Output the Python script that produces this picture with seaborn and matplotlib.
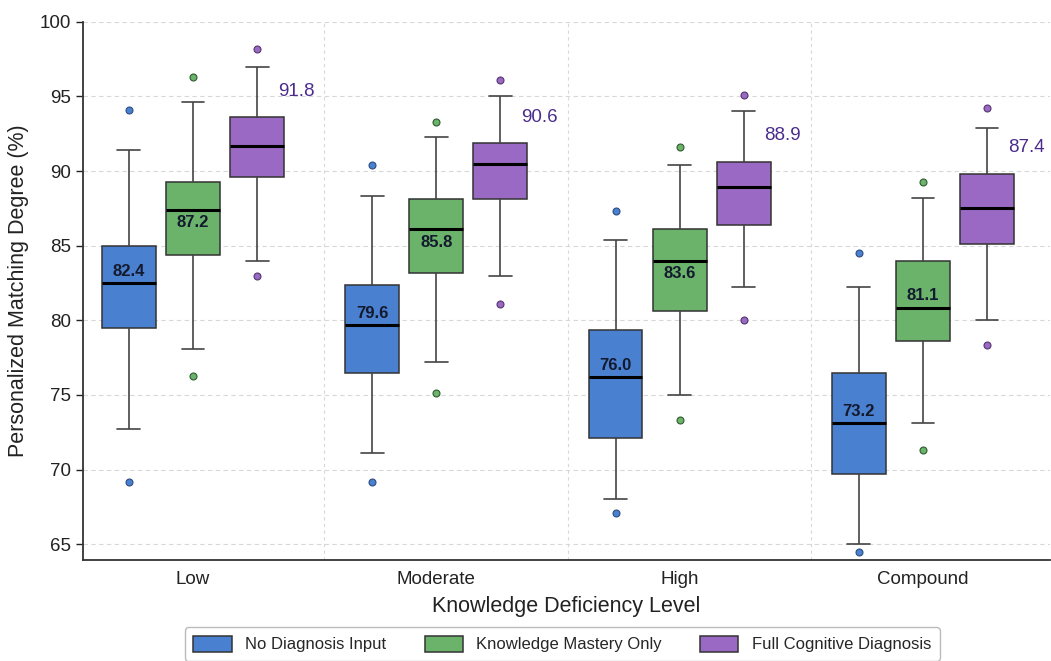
import numpy as np
import pandas as pd
import matplotlib
matplotlib.use("Agg")
import matplotlib.pyplot as plt
import seaborn as sns

# Knowledge deficiency levels and recommendation settings
levels = ["Low", "Moderate", "High", "Compound"]
methods = ["No Diagnosis Input", "Knowledge Mastery Only", "Full Cognitive Diagnosis"]

# Box summaries per method (one value per level)
none_out_lo = [69.2, 69.2, 67.1, 64.5]
none_wlo = [72.7, 71.1, 68.0, 65.0]
none_q1 = [79.5, 76.5, 72.1, 69.7]
none_med = [82.5, 79.7, 76.2, 73.1]
none_q3 = [85.0, 82.35, 79.35, 76.5]
none_whi = [91.4, 88.35, 85.4, 82.2]
none_out_hi = [94.1, 90.4, 87.3, 84.5]
none_mean = [82.4, 79.6, 76.0, 73.2]

km_out_lo = [76.3, 75.1, 73.3, 71.3]
km_wlo = [78.1, 77.2, 75.0, 73.1]
km_q1 = [84.35, 83.2, 80.6, 78.6]
km_med = [87.4, 86.1, 84.0, 80.85]
km_q3 = [89.3, 88.1, 86.1, 84.0]
km_whi = [94.6, 92.3, 90.4, 88.2]
km_out_hi = [96.3, 93.3, 91.6, 89.3]
km_mean = [87.2, 85.8, 83.6, 81.1]

full_out_lo = [83.0, 81.1, 80.0, 78.35]
full_wlo = [84.0, 83.0, 82.2, 80.0]
full_q1 = [89.6, 88.1, 86.4, 85.1]
full_med = [91.7, 90.45, 88.9, 87.5]
full_q3 = [93.6, 91.85, 90.6, 89.8]
full_whi = [97.0, 95.05, 94.0, 92.9]
full_out_hi = [98.2, 96.1, 95.1, 94.2]
full_mean = [91.8, 90.6, 88.9, 87.4]

summaries = {
    methods[0]: (none_out_lo, none_wlo, none_q1, none_med, none_q3, none_whi, none_out_hi),
    methods[1]: (km_out_lo, km_wlo, km_q1, km_med, km_q3, km_whi, km_out_hi),
    methods[2]: (full_out_lo, full_wlo, full_q1, full_med, full_q3, full_whi, full_out_hi),
}
medians = {methods[0]: none_med, methods[1]: km_med, methods[2]: full_med}
upper_q = {methods[0]: none_q3, methods[1]: km_q3, methods[2]: full_q3}

# Nine sorted points per box reproduce the quartiles; the 12.5/87.5
# percentiles land on the whisker ends, leaving one flier on each side.
rows = []
for m, (olo, wlo, q1, med, q3, whi, ohi) in summaries.items():
    for i, lv in enumerate(levels):
        pts = [olo[i], wlo[i], q1[i], q1[i], med[i], q3[i], q3[i], whi[i], ohi[i]]
        rows += [{"level": lv, "method": m, "score": v} for v in pts]
df = pd.DataFrame(rows)

palette = {methods[0]: "#4A80D0", methods[1]: "#6BB36B", methods[2]: "#9A69C4"}
flier_edges = {methods[0]: "#2E4D80", methods[1]: "#2F5A2F", methods[2]: "#54356F"}

sns.set_style("ticks")
plt.rcParams["font.family"] = ["Liberation Sans", "DejaVu Sans"]

fig = plt.figure(figsize=(10.51, 6.61), dpi=100)
ax = fig.add_axes([0.079, 0.153, 0.92, 0.814])

width = 0.79
sns.boxplot(
    data=df, x="level", y="score", hue="method",
    order=levels, hue_order=methods, palette=palette, saturation=1,
    width=width, gap=0.16, whis=(12.5, 87.5),
    linewidth=1.1, linecolor="#333333",
    medianprops=dict(color="black", linewidth=2.2),
    whiskerprops=dict(color="#444444", linewidth=1.2),
    capprops=dict(color="#444444", linewidth=1.2),
    flierprops=dict(marker="o", markersize=5, markeredgewidth=0.8),
    ax=ax, zorder=3,
)

# Fill fliers with their group's colour and narrow the whisker caps
for cont, m in zip(ax.containers, methods):
    for fl in cont.fliers:
        fl.set_markerfacecolor(palette[m])
        fl.set_markeredgecolor(flier_edges[m])
    for cap in cont.caps:
        xs = np.asarray(cap.get_xdata(), dtype=float)
        c = xs.mean()
        cap.set_xdata(c + (xs - c) * 0.85)

handles, labels = ax.get_legend_handles_labels()
if ax.get_legend() is not None:
    ax.get_legend().remove()

ax.set_xlim(-0.452, 3.522)
ax.set_ylim(63.95, 100)
ax.set_yticks([65, 70, 75, 80, 85, 90, 95, 100])

# Grid: dashed horizontal lines at ticks, vertical separators between levels
ax.grid(axis="y", linestyle=(0, (4, 3)), color="#d8d8d8", linewidth=0.8, zorder=0)
for i in range(len(levels) - 1):
    ax.axvline(i + 0.54, linestyle=(0, (3, 3)), color="#d8d8d8", linewidth=0.8, zorder=0)

sns.despine(ax=ax, top=True, right=True)
for side in ("left", "bottom"):
    ax.spines[side].set_color("#333333")
    ax.spines[side].set_linewidth(1.3)
ax.tick_params(axis="x", length=0, labelsize=13.5, pad=8, colors="#222222")
ax.tick_params(axis="y", length=5, width=1.0, labelsize=13.5, colors="#222222")

ax.set_xlabel("Knowledge Deficiency Level", fontsize=15.5, color="#222222", labelpad=6)
ax.set_ylabel("Personalized Matching Degree (%)", fontsize=15.5, color="#222222", labelpad=8)

# Mean annotations
step = width / len(methods)
side_km = [-1, -1, -1, 1]
for i in range(len(levels)):
    x0 = i - step
    ax.text(x0, medians[methods[0]][i] + 0.78, f"{none_mean[i]:.1f}",
            ha="center", va="center", fontsize=12, fontweight="bold",
            color="#141a2e", zorder=5)
    x1 = i
    off = 0.78 if side_km[i] > 0 else -0.87
    ax.text(x1, medians[methods[1]][i] + off, f"{km_mean[i]:.1f}",
            ha="center", va="center", fontsize=12, fontweight="bold",
            color="#141a2e", zorder=5)
    x2 = i + step
    ax.text(x2 + 0.085, upper_q[methods[2]][i] + 1.75, f"{full_mean[i]:.1f}",
            ha="left", va="center", fontsize=13.5, color="#4B2C8C", zorder=5)

fig.legend(
    handles, labels, ncol=3, loc="upper center",
    bbox_to_anchor=(0.535, 0.051), bbox_transform=fig.transFigure,
    borderaxespad=0,
    fontsize=12, frameon=True, fancybox=True, edgecolor="#aaaaaa",
    handlelength=2.3, handleheight=1.1, columnspacing=2.3, borderpad=0.5,
)

fig.savefig("out.png", dpi=100)
